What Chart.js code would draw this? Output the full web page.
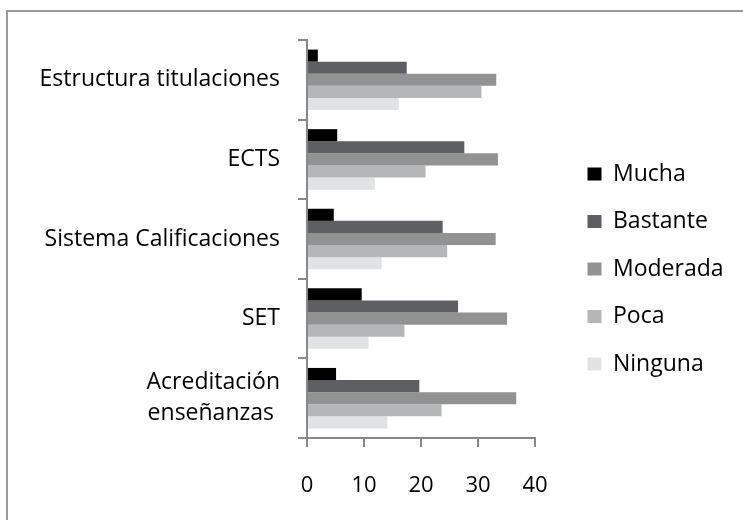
<!DOCTYPE html>
<html lang="es">
<head>
    <meta charset="UTF-8">
    <title>Grado de influencia</title>
    <script src="https://cdn.jsdelivr.net/npm/chart.js"></script>
    <style>
        body { margin: 0; background: #fff; }
    </style>
</head>
<body>
    <canvas id="barChart" width="743" height="520"></canvas>

<script>
// categorias (de arriba abajo)
const categorias = ['Estructura titulaciones', 'ECTS', 'Sistema Calificaciones', 'SET', ['Acreditación', 'enseñanzas ']];

// valores por serie
const mucha    = [1.9, 5.3, 4.7, 9.6, 5.1];
const bastante = [17.5, 27.6, 23.8, 26.5, 19.7];
const moderada = [33.2, 33.5, 33.1, 35.1, 36.7];
const poca     = [30.6, 20.8, 24.6, 17.1, 23.6];
const ninguna  = [16.1, 11.9, 13.1, 10.8, 14.1];

const xTicks = [0, 10, 20, 30, 40];

const fuente = '"Open Sans", "Noto Sans", sans-serif';
const gris = '#888888';

// marco gris arriba e izquierda
const marco = {
    id: 'marco',
    beforeDraw(chart) {
        const ctx = chart.ctx;
        ctx.save();
        ctx.strokeStyle = '#9a9a9a';
        ctx.lineWidth = 2;
        ctx.beginPath();
        ctx.moveTo(7, 520);
        ctx.lineTo(7, 11);
        ctx.lineTo(743, 11);
        ctx.stroke();
        ctx.restore();
    }
};

// mover la leyenda a su sitio
const leyendaPos = {
    id: 'leyendaPos',
    beforeInit(chart) {
        const fit = chart.legend.fit;
        chart.legend.fit = function () {
            fit.bind(chart.legend)();
            this.width = 208;
        };
    },
    afterLayout(chart) {
        const l = chart.legend;
        l.left += 28; l.right += 28;
        l.top -= 11; l.bottom -= 11;
    }
};

const ctx = document.getElementById('barChart').getContext('2d');
new Chart(ctx, {
    type: 'bar',
    data: {
        labels: categorias,
        datasets: [
            { label: 'Mucha', data: mucha, backgroundColor: '#000000' },
            { label: 'Bastante', data: bastante, backgroundColor: '#5e5f63' },
            { label: 'Moderada', data: moderada, backgroundColor: '#929292' },
            { label: 'Poca', data: poca, backgroundColor: '#b5b6b7' },
            { label: 'Ninguna', data: ninguna, backgroundColor: '#e1e2e3' }
        ]
    },
    options: {
        indexAxis: 'y',
        responsive: false,
        animation: false,
        layout: { padding: { top: 40, left: 0, right: 0, bottom: 0 } },
        datasets: {
            bar: { categoryPercentage: 0.76, barPercentage: 1.0, borderWidth: 0 }
        },
        scales: {
            x: {
                min: 0,
                max: 40,
                afterFit(scale) {
                    scale.height = 82;
                    scale.paddingLeft = 0; scale.paddingRight = 0;
                },
                afterBuildTicks(scale) { scale.ticks = xTicks.map(v => ({ value: v })); },
                border: { color: gris, width: 2 },
                grid: { drawOnChartArea: false, drawTicks: true, tickLength: 9, color: gris, lineWidth: 2 },
                ticks: { color: '#000', padding: 26, font: { family: fuente, size: 22 } }
            },
            y: {
                afterFit(scale) {
                    scale.width = 307;
                    scale.paddingTop = 0; scale.paddingBottom = 0;
                },
                border: { color: gris, width: 2 },
                grid: { drawOnChartArea: false, drawTicks: true, tickLength: 9, color: gris, lineWidth: 2 },
                ticks: { color: '#000', padding: 18, font: { family: fuente, size: 23, lineHeight: 1.35 } }
            }
        },
        plugins: {
            legend: {
                position: 'right',
                labels: {
                    color: '#000',
                    boxWidth: 14,
                    boxHeight: 13,
                    padding: 24.5,
                    font: { family: fuente, size: 23 }
                }
            },
            tooltip: { enabled: false }
        }
    },
    plugins: [marco, leyendaPos]
});
</script>
</body>
</html>
